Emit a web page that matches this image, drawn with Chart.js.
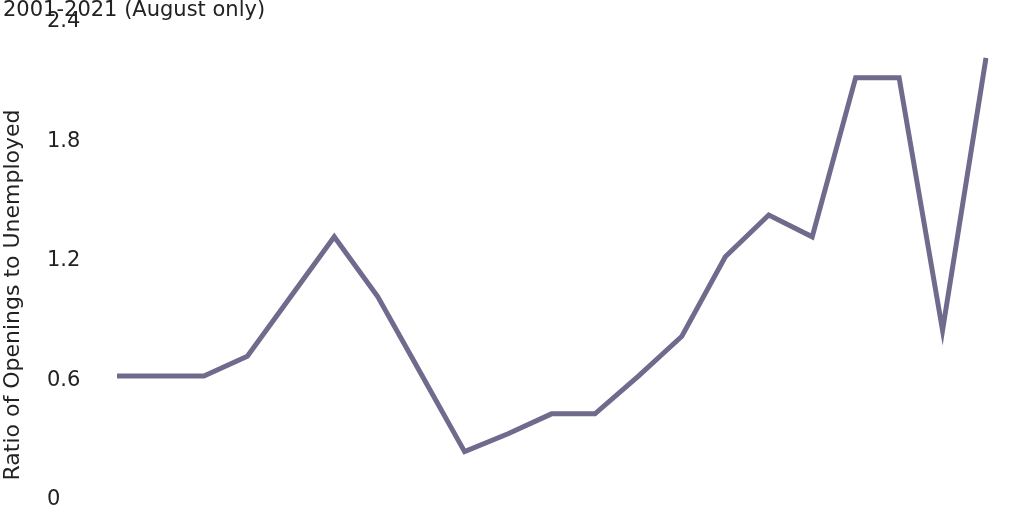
<!DOCTYPE html>
<html>
<head>
<meta charset="utf-8">
<script src="https://cdn.jsdelivr.net/npm/chart.js@4"></script>
<style>
  html, body { margin: 0; padding: 0; background: #fff; }
  #wrap { width: 1024px; height: 512px; }
</style>
</head>
<body>
<div id="wrap"><canvas id="lineChart"></canvas></div>
<script>
const years = ['2001', '2002', '2003', '2004', '2005', '2006', '2007', '2008', '2009', '2010', '2011',
               '2012', '2013', '2014', '2015', '2016', '2017', '2018', '2019', '2020', '2021'];
const ratios = [0.62, 0.62, 0.62, 0.72, 1.02, 1.32, 1.02, 0.63, 0.24, 0.33, 0.43,
                0.43, 0.62, 0.82, 1.22, 1.43, 1.32, 2.12, 2.12, 0.85, 2.22];
const yTicks = [0, 0.6, 1.2, 1.8, 2.4];
const chartTitle = '2001-2021 (August only)';
const yTitle = 'Ratio of Openings to Unemployed';

const fontFamily = "'DejaVu Sans', 'Liberation Sans', sans-serif";
const textColor = '#222';

// titles are drawn free-floating so they sit where the original has them
const titlePlugin = {
    id: 'freeTitles',
    afterDraw(chart) {
        const c = chart.ctx;
        c.save();
        c.font = '21px ' + fontFamily;
        c.fillStyle = textColor;
        c.textBaseline = 'middle';
        c.textAlign = 'left';
        c.fillText(chartTitle, 3, 11);

        c.font = '22px ' + fontFamily;
        c.translate(13, 295);
        c.rotate(-Math.PI / 2);
        c.textAlign = 'center';
        c.fillText(yTitle, 0, 0);
        c.restore();
    }
};

document.addEventListener('DOMContentLoaded', () => {
    const ctx = document.getElementById('lineChart').getContext('2d');

    new Chart(ctx, {
        type: 'line',
        data: {
            labels: years,
            datasets: [{
                label: 'Ratio',
                data: ratios,
                borderColor: '#706a8c',
                borderWidth: 5,
                pointRadius: 0,
                tension: 0,
                fill: false
            }]
        },
        options: {
            responsive: true,
            maintainAspectRatio: false,
            animation: false,
            layout: {
                padding: { top: 22, bottom: 5, right: 38, left: 47 }
            },
            scales: {
                x: {
                    display: false,
                    offset: false
                },
                y: {
                    min: 0,
                    max: 2.4,
                    afterBuildTicks: (axis) => {
                        axis.ticks = yTicks.map(v => ({ value: v }));
                    },
                    afterFit: (axis) => { axis.width = 70; },
                    grid: { display: false, drawTicks: false },
                    border: { display: false },
                    ticks: {
                        color: textColor,
                        font: { size: 21, family: fontFamily },
                        crossAlign: 'far',
                        padding: 0,
                        callback: (v) => String(v)
                    }
                }
            },
            plugins: {
                legend: { display: false },
                tooltip: { enabled: false }
            }
        },
        plugins: [titlePlugin]
    });
});
</script>
</body>
</html>
